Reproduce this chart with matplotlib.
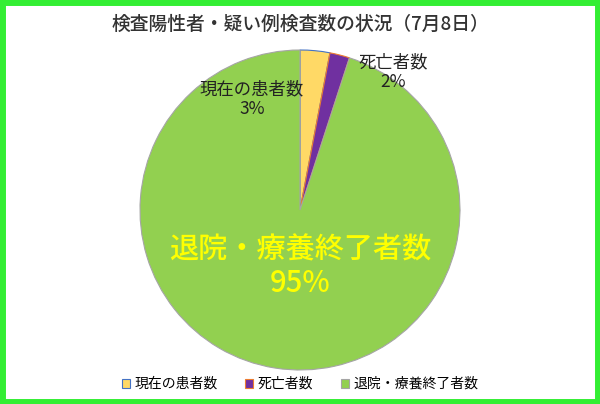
import matplotlib
matplotlib.use("Agg")
import matplotlib.pyplot as plt
from matplotlib.patches import Rectangle

plt.rcParams['font.family'] = ['Noto Sans CJK JP', 'DejaVu Sans']

labels = ["現在の患者数", "死亡者数", "退院・療養終了者数"]
values = [3, 2, 95]
colors = ["#FFD966", "#7030A0", "#92D050"]
edges = ["#4472C4", "#ED7D31", "#A5A5A5"]
title = "検査陽性者・疑い例検査数の状況（7月8日）"

fig = plt.figure(figsize=(6, 4.04), dpi=100)
fig.patch.set_facecolor("white")
fig.patches.append(Rectangle((0.004, 0.006), 0.992, 0.988, transform=fig.transFigure,
                             fill=False, edgecolor="#33EE33", linewidth=5))
fig.text(0.5, 1 - 24 / 404, title, ha="center", va="center", fontsize=13.5,
         color="#333333", fontweight="medium")

ax = fig.add_axes([140 / 600, 1 - 370 / 404, 320 / 600, 320 / 404])
wedges, _ = ax.pie(values, colors=colors, startangle=90, counterclock=False,
                   wedgeprops=dict(linewidth=0.8))
for w, e in zip(wedges, edges):
    w.set_edgecolor(e)
ax.set_xlim(-1.0, 1.0)
ax.set_ylim(-1.0, 1.0)
ax.set_aspect("equal")

fig.text(252 / 600, 1 - 99 / 404, f"{labels[0]}\n{values[0]}%", ha="center", va="center",
         fontsize=12.5, color="#222222", linespacing=1.15)
fig.text(393 / 600, 1 - 72 / 404, f"{labels[1]}\n{values[1]}%", ha="center", va="center",
         fontsize=12.5, color="#222222", linespacing=1.15)
fig.text(0.5, 1 - 267 / 404, f"{labels[2]}\n{values[2]}%", ha="center", va="center",
         fontsize=21, color="#FFFF00", linespacing=1.1, fontweight="medium")

handles = [Rectangle((0, 0), 1, 1, facecolor=c, edgecolor=e, linewidth=0.8)
           for c, e in zip(colors, edges)]
fig.legend(handles, labels, loc="center", bbox_to_anchor=(0.5, 1 - 384 / 404), ncol=3,
           frameon=False, fontsize=10, handlelength=0.6, handleheight=0.6,
           handletextpad=0.3, columnspacing=2.0)

fig.savefig("out.png", dpi=100)
